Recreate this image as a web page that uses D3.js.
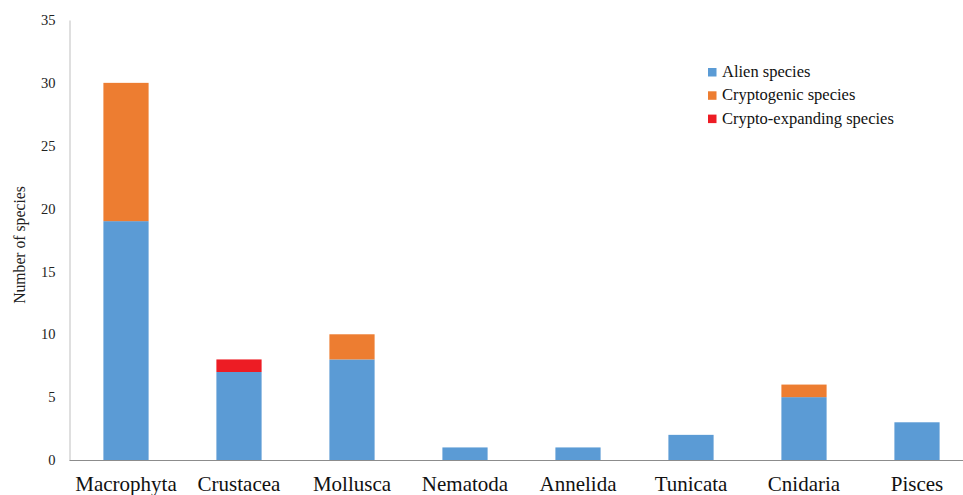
<!DOCTYPE html>
<html><head><meta charset="utf-8">
<script src="https://cdn.jsdelivr.net/npm/d3@7"></script>
<style>body{margin:0;background:#fff;} svg{display:block;}</style>
</head><body><svg id="c" width="963" height="495"></svg>
<script>
const categories = ["Macrophyta","Crustacea","Mollusca","Nematoda","Annelida","Tunicata","Cnidaria","Pisces"];
const alien = [19,7,8,1,1,2,5,3];
const cryptogenic = [11,0,2,0,0,0,1,0];
const cryptoExpanding = [0,1,0,0,0,0,0,0];
const seriesNames = ["Alien species","Cryptogenic species","Crypto-expanding species"];
const colors = ["#5B9BD5","#ED7D31","#ED1C24"];
const yTicks = [0,5,10,15,20,25,30,35];

const svg = d3.select("#c");
const font = "Liberation Serif";
const x = d3.scaleBand().domain(categories).range([69.5, 973.5]).paddingInner(0.6).paddingOuter(0.3);
const y = d3.scaleLinear().domain([0,35]).range([460, 20]);

const table = categories.map((c,i)=>({cat:c, "Alien species":alien[i], "Cryptogenic species":cryptogenic[i], "Crypto-expanding species":cryptoExpanding[i]}));
const stack = d3.stack().keys(seriesNames)(table);

svg.append("g").selectAll("g").data(stack).join("g").attr("fill",(d,i)=>colors[i])
  .selectAll("rect").data(d=>d).join("rect")
  .attr("x",d=>x(d.data.cat)).attr("width",x.bandwidth())
  .attr("y",d=>y(d[1])).attr("height",d=>y(d[0])-y(d[1]));

const ya = svg.append("g").attr("transform","translate(69.5,0)")
  .call(d3.axisLeft(y).tickValues(yTicks).tickSize(0).tickPadding(14));
ya.attr("font-family",font);
ya.select(".domain").attr("stroke","#BFBFBF");
ya.selectAll("text").attr("font-size",14.5).attr("fill","#222");

const xa = svg.append("g").attr("transform","translate(0,460.5)")
  .call(d3.axisBottom(x).tickSize(0).tickPadding(16));
xa.attr("font-family",font);
xa.select(".domain").attr("stroke","#8C8C8C").attr("d","M69.5,0H963");
xa.selectAll("text").attr("font-size",21).attr("fill","#111");

svg.append("text").attr("transform","translate(25,245) rotate(-90)")
  .attr("text-anchor","middle").attr("font-family",font).attr("font-size",15.7).attr("fill","#222")
  .text("Number of species");

const lg = svg.append("g").attr("transform","translate(708,68)");
seriesNames.forEach((n,i)=>{
  const r = lg.append("g").attr("transform",`translate(0,${i*23.3})`);
  r.append("rect").attr("width",8.5).attr("height",8.5).attr("fill",colors[i]);
  r.append("text").attr("x",14).attr("y",9).attr("font-family",font).attr("font-size",16.5).attr("fill","#111").text(n);
});
</script></body></html>
